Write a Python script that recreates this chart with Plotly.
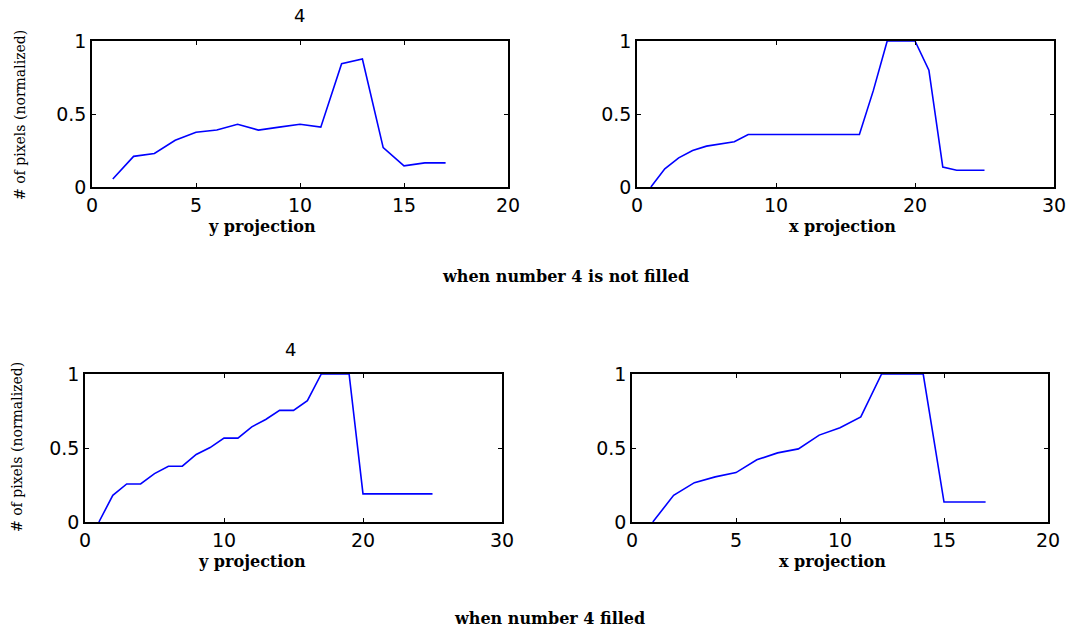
import plotly.graph_objects as go

# Data
tl_x = list(range(1, 18))
tl_y = [0.055, 0.21, 0.23, 0.32, 0.375, 0.39, 0.43, 0.39, 0.41, 0.43, 0.41, 0.845, 0.877, 0.27, 0.145, 0.165, 0.165]

tr_x = list(range(1, 26))
tr_y = [0.0, 0.125, 0.2, 0.25, 0.28, 0.295, 0.31, 0.36, 0.36, 0.36, 0.36, 0.36, 0.36, 0.36, 0.36, 0.36,
        0.66, 1.0, 1.0, 1.0, 0.8, 0.137, 0.115, 0.115, 0.115]

bl_x = list(range(1, 26))
bl_y = [0.0, 0.18, 0.257, 0.257, 0.327, 0.377, 0.377, 0.456, 0.503, 0.567, 0.567, 0.643, 0.693, 0.754,
        0.754, 0.82, 1.0, 1.0, 1.0, 0.19, 0.19, 0.19, 0.19, 0.19, 0.19]

br_x = list(range(1, 18))
br_y = [0.0, 0.18, 0.266, 0.305, 0.334, 0.42, 0.467, 0.494, 0.587, 0.637, 0.71, 1.0, 1.0, 1.0, 0.135, 0.135, 0.135]

x_ranges = [[0, 20], [0, 30], [0, 30], [0, 20]]
x_dtick = [5, 10, 10, 5]
x_labels = ["y projection", "x projection", "y projection", "x projection"]
ylabel = "# of pixels (normalized)"
captions = ["when number 4 is not filled", "when number 4 filled"]
title = "4"

W, H = 1070, 630


def fx(px):
    return px / W


def fy(py):
    return 1 - py / H


boxes = [(92, 508, 41, 187), (637, 1054, 41, 187), (85, 502, 374, 522), (632, 1048, 374, 522)]

fig = go.Figure()
series = [(tl_x, tl_y), (tr_x, tr_y), (bl_x, bl_y), (br_x, br_y)]
tickfont = dict(family="DejaVu Sans", size=19, color="black")
serif = dict(family="DejaVu Serif", size=16, color="black")

for i, ((xs, ys), (x0, x1, y0, y1)) in enumerate(zip(series, boxes)):
    n = "" if i == 0 else str(i + 1)
    fig.add_trace(go.Scatter(x=xs, y=ys, mode="lines", line=dict(color="#0000FF", width=1.6),
                             xaxis="x" + n, yaxis="y" + n, showlegend=False))
    fig.layout["xaxis" + n] = dict(domain=[fx(x0), fx(x1)], anchor="y" + n, range=x_ranges[i],
                                   dtick=x_dtick[i], tick0=0, ticks="inside", ticklen=4, tickcolor="black",
                                   showline=True, linecolor="black", linewidth=1.5, mirror="ticks",
                                   showgrid=False, zeroline=False, tickfont=tickfont, automargin=False)
    fig.layout["yaxis" + n] = dict(domain=[fy(y1), fy(y0)], anchor="x" + n, range=[0, 1],
                                   tickvals=[0, 0.5, 1], ticktext=["0", "0.5", "1"],
                                   ticks="inside", ticklen=4, tickcolor="black",
                                   showline=True, linecolor="black", linewidth=1.5, mirror="ticks",
                                   showgrid=False, zeroline=False, tickfont=tickfont, automargin=False)

ann = []
label_pos = [(262, 226), (842, 226), (252, 561), (832, 561)]
for (px, py), t in zip(label_pos, x_labels):
    ann.append(dict(x=fx(px), y=fy(py), xref="paper", yref="paper", text="<b>" + t + "</b>",
                    showarrow=False, font=serif, xanchor="center", yanchor="middle"))
for px, py in [(20, 115), (17, 447)]:
    ann.append(dict(x=fx(px), y=fy(py), xref="paper", yref="paper", text=ylabel, textangle=-90,
                    showarrow=False, font=dict(family="DejaVu Serif", size=14, color="black"),
                    xanchor="center", yanchor="middle"))
for px, py in [(299, 15), (290, 349)]:
    ann.append(dict(x=fx(px), y=fy(py), xref="paper", yref="paper", text=title,
                    showarrow=False, font=dict(family="DejaVu Sans", size=18, color="black"),
                    xanchor="center", yanchor="middle"))
for (px, py), t in zip([(565, 276), (550, 618)], captions):
    ann.append(dict(x=fx(px), y=fy(py), xref="paper", yref="paper", text="<b>" + t + "</b>",
                    showarrow=False, font=serif, xanchor="center", yanchor="middle"))

fig.update_layout(width=W, height=H, margin=dict(l=0, r=0, t=0, b=0, autoexpand=False),
                  paper_bgcolor="white", plot_bgcolor="white", annotations=ann)
fig.write_html("out.html", config={"displayModeBar": False},
               post_script="document.body.style.margin='0';document.body.style.overflow='hidden';")
